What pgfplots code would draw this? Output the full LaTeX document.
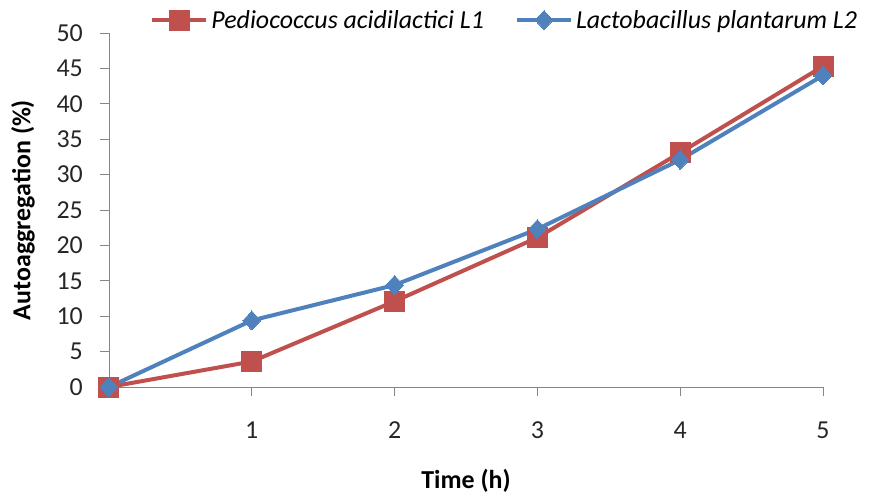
\documentclass[border=0pt]{standalone}
\usepackage{pgfplots}
\pgfplotsset{compat=1.18}
\usepackage{fontspec}
\setmainfont{Carlito}
\definecolor{xred}{RGB}{192,80,77}
\definecolor{xblue}{RGB}{79,129,189}
\definecolor{axgray}{RGB}{134,134,134}
\begin{document}
\begin{tikzpicture}
\begin{axis}[
  at={(0,0)}, anchor=south west,
  scale only axis, width=714bp, height=354bp,
  xmin=0, xmax=5, ymin=0, ymax=50,
  axis x line*=bottom, axis y line*=left,
  axis line style={axgray, line width=0.9pt},
  xtick={1,2,3,4,5}, ytick={0,5,...,50},
  tick align=outside, major tick length=9bp,
  tick style={axgray, line width=0.9pt},
  /pgf/number format/assume math mode=true,
  ticklabel style={font=\fontsize{26}{30}\selectfont, text=black!85},
  xticklabel style={anchor=base, yshift=-42bp},
  yticklabel style={anchor=east, inner sep=0pt, xshift=-17bp},
  xlabel={\textbf{Time (h)}},
  ylabel={\textbf{Autoaggregation (\%)}},
  xlabel style={font=\fontsize{26}{30}\selectfont, at={(axis description cs:0.5,0)}, anchor=center, yshift=-94bp},
  ylabel style={font=\fontsize{26}{30}\selectfont, at={(axis description cs:0,0.5)}, anchor=center, yshift=86bp},
  clip=false,
  legend columns=2,
  legend cell align=left,
  legend style={at={(axis description cs:0.555,1.0)}, anchor=center, draw=none, fill=none,
    inner sep=0pt, yshift=13bp,
    font=\fontsize{26}{30}\selectfont\itshape,
    nodes={inner sep=3bp},
    /tikz/every even column/.append style={column sep=28bp}},
  legend image code/.code={%
    \draw[mark repeat=2,mark phase=2] plot coordinates {(0bp,0bp) (27bp,0bp) (54bp,0bp)};},
]
\addplot[color=xred, line width=4bp, mark=square*, mark size=10bp, mark options={line width=0pt, fill=xred}]
  coordinates {(0,0) (1,3.6) (2,12.1) (3,21.1) (4,33.1) (5,45.3)};
\addlegendentry{Pediococcus acidilactici L1}
\addplot[color=xblue, line width=4bp, mark=diamond*, mark size=9.5bp, mark options={line width=0pt, fill=xblue, xscale=1.25}]
  coordinates {(0,0) (1,9.4) (2,14.4) (3,22.3) (4,32.1) (5,44.0)};
\addlegendentry{Lactobacillus plantarum L2}
\end{axis}
\path[use as bounding box] (-109bp,-109bp) rectangle (767bp,387bp);
\end{tikzpicture}
\end{document}
